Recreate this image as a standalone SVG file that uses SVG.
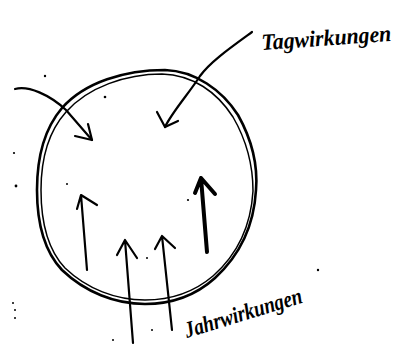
<svg xmlns="http://www.w3.org/2000/svg" width="398" height="350" viewBox="0 0 398 350">
<style>
.ln{fill:none;stroke:#000;stroke-linecap:round;stroke-linejoin:round}
.ring{stroke-width:2.6}
.ring2{stroke-width:1.5}
.ar{stroke-width:2.2}
.bold{stroke-width:4}
.lbl{font-family:"Liberation Serif",serif;font-style:italic;font-weight:bold;font-size:23px;fill:#000}
.dot{fill:#000}
</style>
<rect width="398" height="350" fill="#fff"/>
<g id="circle">
<path class="ln ring" d="M165,70 C195,71 222,90 238,115 C252,140 258,165 256,190 C254,225 240,255 215,278 C195,296 170,304 145,304 C115,304 85,292 62,270 C45,252 37,225 37,190 C37,155 45,128 62,108 C85,82 125,70 165,70 Z"/>
<path class="ln ring2" d="M162,74 C193,75 217,92 233,117 C248,143 253,168 253,191 C251,225 238,254 213,276 C193,293 169,300 145,300 C116,300 87,289 65,268 C48,250 41,225 41,190 C41,156 49,131 66,112 C88,87 126,74 162,74 Z"/>
</g>
<g id="connectors">
<g id="arrow-left"><path class="ln ar" d="M15,89 C28,85 50,95 66,110 L92,140"/><path class="ln ar" d="M75,136 L92,140 L88,124"/></g>
<g id="arrow-top"><path class="ln ar" d="M252,32 C230,48 210,62 200,76 C190,92 172,112 165,127"/><path class="ln ar" d="M157,112 L165,127 L178,121"/></g>
<g id="arrow-a"><path class="ln ar" d="M87,270 L81,195 M77,209 L81,195 L97,205"/></g>
<g id="arrow-b"><path class="ln bold" d="M207,252 L201,178 M195,193 L201,178 L215,194"/></g>
<g id="arrow-c"><path class="ln ar" d="M133,343 L125,240 M117,255 L125,240 L137,258"/></g>
<g id="arrow-d"><path class="ln ar" d="M172,330 L162,236 M155,249 L162,236 L175,248"/></g>
</g>
<g id="label-tag"><text class="lbl" x="262" y="50" textLength="130" lengthAdjust="spacingAndGlyphs" transform="rotate(-4 262 50)">Tagwirkungen</text></g>
<g id="label-jahr"><text class="lbl" x="187" y="338" textLength="122" lengthAdjust="spacingAndGlyphs" transform="rotate(-17 187 338)">Jahrwirkungen</text></g>
<g id="specks">
<circle class="dot" cx="45" cy="76" r="1.2"/>
<circle class="dot" cx="105" cy="97" r="1.3"/>
<circle class="dot" cx="14" cy="153" r="1.1"/>
<circle class="dot" cx="16" cy="186" r="1.4"/>
<circle class="dot" cx="67" cy="184" r="1"/>
<circle class="dot" cx="188" cy="200" r="1.1"/>
<circle class="dot" cx="147" cy="258" r="1"/>
<circle class="dot" cx="13" cy="303" r="1"/>
<circle class="dot" cx="15" cy="310" r="1"/>
<circle class="dot" cx="15" cy="318" r="1"/>
<circle class="dot" cx="113" cy="340" r="1"/>
<circle class="dot" cx="152" cy="330" r="1"/>
<circle class="dot" cx="318" cy="270" r="1.2"/>
</g>
</svg>
